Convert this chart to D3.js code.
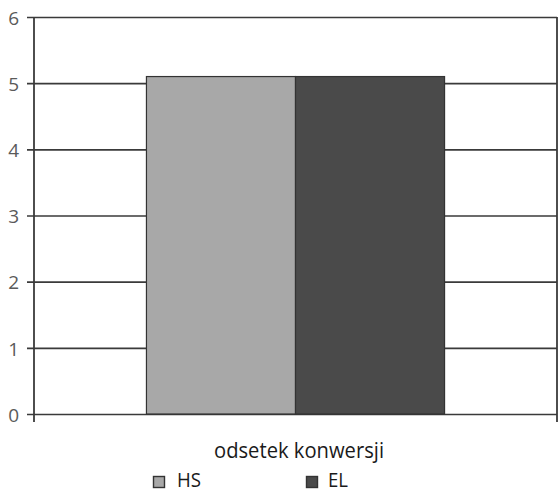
<!DOCTYPE html>
<html>
<head>
<meta charset="utf-8">
<script src="https://cdn.jsdelivr.net/npm/d3@7"></script>
<style>
  html, body { margin: 0; padding: 0; background: #fff; }
  svg { display: block; font-family: "Open Sans", "Noto Sans", sans-serif; }
</style>
</head>
<body>
<svg id="chart" width="559" height="493"></svg>
<script>
// Conversion rate by group
const categories = ["odsetek konwersji"];
const seriesNames = ["HS", "EL"];
const seriesValues = [5.1, 5.1];
const seriesColors = ["#a8a8a8", "#4a4a4a"];
const yTicks = [0, 1, 2, 3, 4, 5, 6];

const svg = d3.select("#chart");
const plotLeft = 34, plotRight = 557, plotTop = 17, plotBottom = 414;

const y = d3.scaleLinear().domain([0, 6]).range([plotBottom, plotTop]);
const x0 = d3.scaleBand().domain(categories).range([plotLeft, plotRight])
  .paddingInner(0.43).paddingOuter(0.215);
const x1 = d3.scaleBand().domain(seriesNames).range([0, x0.bandwidth()]).padding(0);

// Horizontal gridlines with short ticks on the left
const yAxis = d3.axisLeft(y).tickValues(yTicks).tickFormat(d3.format("d")).tickSizeOuter(0);
const gy = svg.append("g").attr("transform", `translate(${plotLeft - 7},0)`).call(yAxis);
gy.select(".domain").remove();
gy.selectAll(".tick line")
  .attr("x1", 0).attr("x2", plotRight - plotLeft + 7)
  .attr("stroke", "#3a3a3a").attr("stroke-width", 1.6);
gy.selectAll(".tick text")
  .attr("x", -8).attr("dy", "0.38em")
  .attr("fill", "#5a5a5a").style("font-size", "19px")
  .style("font-family", "'Open Sans', sans-serif");

// Vertical frame lines at both ends of the category axis
[plotLeft, plotRight].forEach(xv => {
  svg.append("line")
    .attr("x1", xv).attr("x2", xv)
    .attr("y1", y(6)).attr("y2", plotBottom + 8)
    .attr("stroke", "#3a3a3a").attr("stroke-width", 1.8);
});

// Bars
const g = svg.append("g");
categories.forEach(cat => {
  g.selectAll("rect.bar")
    .data(seriesNames.map((s, i) => ({ s, v: seriesValues[i], c: seriesColors[i] })))
    .join("rect")
    .attr("class", "bar")
    .attr("x", d => x0(cat) + x1(d.s))
    .attr("y", d => y(d.v))
    .attr("width", x1.bandwidth())
    .attr("height", d => y(0) - y(d.v))
    .attr("fill", d => d.c)
    .attr("stroke", "#333")
    .attr("stroke-width", 1.2);
});

// Category label
svg.append("text")
  .attr("x", 214)
  .attr("y", 458)
  .attr("textLength", 170)
  .attr("lengthAdjust", "spacingAndGlyphs")
  .attr("fill", "#1a1a1a")
  .style("font-size", "21px")
  .text(categories[0]);

// Legend
const legendX = [153, 306];
const legendTextX = [24, 22];
const legendTextW = [24, 20];
seriesNames.forEach((s, i) => {
  const lg = svg.append("g").attr("transform", `translate(${legendX[i]},476)`);
  lg.append("rect").attr("x", 0.5).attr("y", 0.5).attr("width", 11).attr("height", 11)
    .attr("fill", seriesColors[i]).attr("stroke", "#333").attr("stroke-width", 1.4);
  lg.append("text").attr("x", legendTextX[i]).attr("y", 11)
    .attr("textLength", legendTextW[i]).attr("lengthAdjust", "spacingAndGlyphs")
    .attr("fill", "#1a1a1a").style("font-size", "20px").text(s);
});
</script>
</body>
</html>
